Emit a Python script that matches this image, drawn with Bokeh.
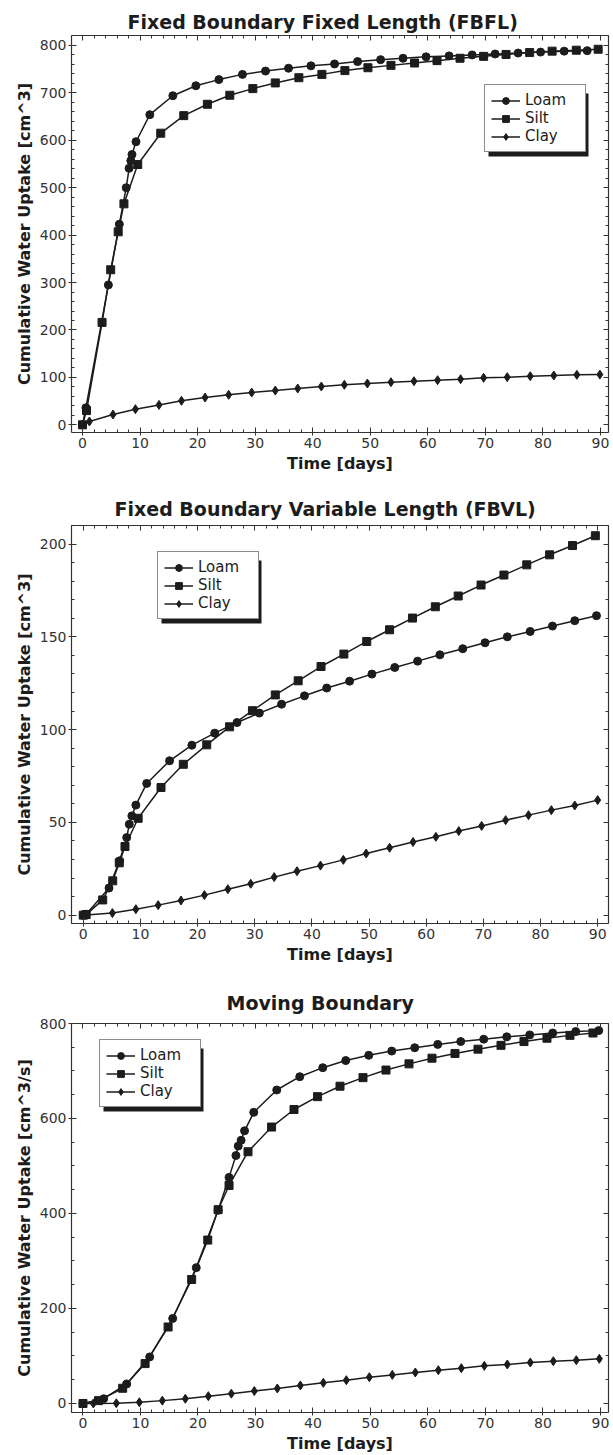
from bokeh.plotting import figure
from bokeh.models import (LinearAxis, SingleIntervalTicker, Range1d, Legend,
                          LegendItem, BoxAnnotation, CustomJSTickFormatter)
from bokeh.layouts import column
from bokeh.embed import file_html
from bokeh.resources import INLINE

# ---------------- data ----------------
# Panel 1: Fixed Boundary Fixed Length (FBFL)
fbfl_loam_t = [0, 0.6, 4.5, 6.4, 7.6, 8.1, 8.4, 8.6, 9.3, 11.7, 15.7, 19.7, 23.7, 27.8,
               31.8, 35.8, 39.7, 43.8, 47.8, 51.8, 55.7, 59.7, 63.7, 67.7, 71.7, 75.7,
               79.6, 83.7, 87.7]
fbfl_loam_v = [0, 36, 295, 423, 500, 541, 557, 570, 597, 654, 694, 715, 728, 739,
               746, 752, 757, 761, 766, 770, 773, 776, 778, 780, 782, 784, 786, 788, 789]
fbfl_silt_t = [0, 0.7, 3.4, 4.9, 6.2, 7.2, 9.6, 13.6, 17.6, 21.7, 25.6, 29.6, 33.5, 37.6,
               41.6, 45.6, 49.6, 53.6, 57.7, 61.6, 65.6, 69.7, 73.6, 77.7, 81.6, 85.8, 89.6]
fbfl_silt_v = [0, 30, 216, 327, 407, 466, 549, 615, 652, 676, 695, 709, 721, 732,
               739, 747, 753, 758, 763, 768, 773, 777, 781, 785, 788, 790, 792]
fbfl_clay_t = [0, 1.2, 5.3, 9.2, 13.3, 17.2, 21.3, 25.4, 29.4, 33.5, 37.4, 41.5, 45.5,
               49.5, 53.6, 57.6, 61.7, 65.7, 69.7, 73.8, 77.8, 81.9, 85.9, 89.9]
fbfl_clay_v = [0, 7, 21.7, 33, 42, 50.6, 57.6, 63.2, 68.1, 72.3, 76.6, 80.8, 84.4,
               87.1, 89.9, 92, 94.1, 96.2, 99.1, 100.5, 102.6, 104, 105.4, 106]

# Panel 2: Fixed Boundary Variable Length (FBVL)
fbvl_loam_t = [0, 0.5, 4.5, 6.35, 7.6, 8.05, 8.5, 9.2, 11.1, 15.1, 19.0, 23.0, 26.9, 30.8,
               34.7, 38.7, 42.6, 46.6, 50.5, 54.5, 58.5, 62.4, 66.4, 70.3, 74.2, 78.2,
               82.1, 86.0, 89.8]
fbvl_loam_v = [0, 0.5, 14.6, 29.3, 41.8, 49, 53.5, 59.3, 71, 83.2, 91.6, 98.1, 103.8, 108.9,
               113.7, 118.2, 122.4, 126.1, 129.9, 133.5, 136.9, 140.3, 143.6, 146.8, 150,
               152.9, 155.8, 158.7, 161.4]
fbvl_silt_t = [0, 0.5, 3.4, 5.15, 6.3, 7.3, 9.6, 13.6, 17.5, 21.6, 25.6, 29.6, 33.6, 37.6,
               41.6, 45.6, 49.6, 53.6, 57.6, 61.6, 65.6, 69.6, 73.6, 77.6, 81.6, 85.6, 89.6]
fbvl_silt_v = [0, 0.3, 8.2, 18.5, 28.2, 37, 52.2, 68.8, 81.3, 91.8, 101.5, 110.2, 118.7, 126.3,
               134, 140.7, 147.5, 153.8, 160.1, 166.2, 172, 177.9, 183.3, 188.8, 194.2,
               199.2, 204.5]
fbvl_clay_t = [0, 5.1, 9.2, 13.1, 17.1, 21.2, 25.3, 29.3, 33.4, 37.4, 41.5, 45.5, 49.5,
               53.6, 57.7, 61.7, 65.7, 69.7, 73.9, 77.9, 81.9, 86.0, 90.0]
fbvl_clay_v = [0, 1.1, 3.2, 5.4, 7.9, 10.8, 14, 16.9, 20.5, 23.7, 26.7, 29.8, 33.2,
               36.3, 39.4, 42.2, 45.3, 48.1, 51.2, 53.9, 56.6, 59.1, 62]

# Panel 3: Moving Boundary
mb_loam_t = [0, 3.6, 7.6, 11.6, 15.6, 19.7, 23.5, 25.4, 26.6, 27.0, 27.5, 28.1, 29.7,
             33.7, 37.7, 41.7, 45.7, 49.7, 53.7, 57.7, 61.7, 65.7, 69.7, 73.7, 77.7,
             81.7, 85.7, 89.7]
mb_loam_v = [0, 10, 41, 98, 179, 286, 407, 476, 522, 542, 554, 574, 613,
             660, 688, 707, 722, 733, 742, 749, 756, 762, 767, 772, 776, 780, 783, 785]
mb_silt_t = [0, 2.7, 6.9, 10.8, 14.8, 18.9, 21.7, 23.5, 25.4, 28.7, 32.8, 36.7, 40.8,
             44.7, 48.7, 52.7, 56.7, 60.7, 64.7, 68.7, 72.7, 76.7, 80.7, 84.7, 88.7]
mb_silt_v = [0, 6, 32, 84, 161, 261, 344, 408, 459, 530, 582, 619, 646,
             668, 686, 702, 715, 727, 737, 746, 754, 762, 769, 775, 780]
mb_clay_t = [0, 1.8, 5.8, 9.8, 13.8, 17.8, 21.8, 25.8, 29.8, 33.8, 37.8, 41.8, 45.8,
             49.8, 53.8, 57.8, 61.8, 65.8, 69.8, 73.8, 77.8, 81.8, 85.8, 89.8]
mb_clay_v = [0, 0, 0.5, 2.5, 6, 10, 15.4, 20.7, 26.2, 31.6, 37.9, 43.4, 49,
             55.4, 60.2, 65.3, 70.1, 74.3, 79.2, 82.1, 86.3, 89, 91.2, 94]

series_labels = ["Loam", "Silt", "Clay"]
x_title = "Time [days]"

# ---------------- styling ----------------
FONT = "DejaVu Sans"
INK = "#1c1c1c"
AXC = "#333333"
MARKERS = ["circle", "square", "diamond"]
MSIZES = [8, 8, 9]


def style_axis(ax, main=True):
    ax.axis_line_color = AXC
    ax.axis_line_width = 1.2
    ax.major_tick_line_color = AXC
    ax.minor_tick_line_color = AXC
    ax.major_tick_in = 5
    ax.minor_tick_in = 3
    ax.minor_tick_out = 0
    if main:
        ax.major_tick_out = 3
        ax.major_label_text_font = FONT
        ax.major_label_text_font_size = "14px"
        ax.major_label_text_color = AXC
        ax.major_label_standoff = 2
        ax.axis_label_text_font = FONT
        ax.axis_label_text_font_size = "16px"
        ax.axis_label_text_font_style = "bold"
        ax.axis_label_text_color = INK
        ax.axis_label_standoff = 3
    else:
        ax.major_tick_out = 0
        ax.formatter = CustomJSTickFormatter(code="return ''")
        ax.major_label_text_color = None
        ax.major_label_text_font_size = "1px"
        ax.major_label_standoff = 0


def make_panel(title, ylabel, series, xr, yr, yint, yminor, h, top, left, bottom, right,
               leg_xy, title_standoff, title_offset):
    p = figure(width=613, height=h, output_backend="svg", toolbar_location=None,
               x_range=Range1d(*xr), y_range=Range1d(*yr),
               min_border_left=left, min_border_right=right, min_border_top=top,
               min_border_bottom=bottom)
    p.title.text = title
    p.title.text_font = FONT
    p.title.text_font_size = "19px"
    p.title.text_font_style = "bold"
    p.title.text_color = INK
    p.title.align = "left"
    p.title.standoff = title_standoff
    p.title.offset = title_offset
    p.grid.visible = False
    p.outline_line_color = None
    p.background_fill_color = "white"
    p.border_fill_color = "white"

    p.xaxis.ticker = SingleIntervalTicker(interval=10, num_minor_ticks=5)
    p.yaxis.ticker = SingleIntervalTicker(interval=yint, num_minor_ticks=yminor)
    p.xaxis.axis_label = x_title
    p.yaxis.axis_label = ylabel
    for ax in p.xaxis + p.yaxis:
        style_axis(ax, True)
    top_ax = LinearAxis(ticker=SingleIntervalTicker(interval=10, num_minor_ticks=5))
    right_ax = LinearAxis(ticker=SingleIntervalTicker(interval=yint, num_minor_ticks=yminor))
    style_axis(top_ax, False)
    style_axis(right_ax, False)
    p.add_layout(top_ax, "above")
    p.add_layout(right_ax, "right")

    items = []
    for (t, v), lab, mk, ms in zip(series, series_labels, MARKERS, MSIZES):
        lr = p.line(t, v, line_color=INK, line_width=1.5)
        sr = p.scatter(t, v, marker=mk, size=ms, fill_color=INK, line_color=INK)
        items.append(LegendItem(label=lab, renderers=[lr, sr]))

    lw, lh = 100, 63
    vx, vy = leg_xy
    shadow = BoxAnnotation(left=vx + 4, right=vx + 4 + lw, bottom=vy - 4, top=vy - 4 + lh,
                           left_units="screen", right_units="screen",
                           bottom_units="screen", top_units="screen",
                           fill_color="#1c1c1c", fill_alpha=1.0, line_color=None)
    p.add_layout(shadow)
    leg = Legend(items=items, location=(vx, vy), padding=6, spacing=0, margin=0,
                 label_height=17, glyph_height=17, glyph_width=29, label_standoff=5,
                 label_width=54, label_text_font=FONT, label_text_font_size="15px",
                 label_text_color=INK, border_line_color=INK, border_line_width=1.2,
                 background_fill_color="white", background_fill_alpha=1.0)
    p.add_layout(leg, "center")
    return p


p1 = make_panel("Fixed Boundary Fixed Length (FBFL)", "Cumulative Water Uptake [cm^3]",
                [(fbfl_loam_t, fbfl_loam_v), (fbfl_silt_t, fbfl_silt_v),
                 (fbfl_clay_t, fbfl_clay_v)],
                (-1.91, 91.4), (-16.2, 821), 100, 5,
                480, 35, 71, 48, 4, (413, 280), 5, 56)
p2 = make_panel("Fixed Boundary Variable Length (FBVL)", "Cumulative Water Uptake [cm^3]",
                [(fbvl_loam_t, fbvl_loam_v), (fbvl_silt_t, fbvl_silt_v),
                 (fbvl_clay_t, fbvl_clay_v)],
                (-2.06, 91.9), (-4.5, 210), 50, 5,
                495, 45, 63, 52, 2, (86, 304), 12, 43)
p3 = make_panel("Moving Boundary", "Cumulative Water Uptake [cm^3/s]",
                [(mb_loam_t, mb_loam_v), (mb_silt_t, mb_silt_v),
                 (mb_clay_t, mb_clay_v)],
                (-2.0, 91.4), (-19, 800), 200, 4,
                480, 48, 63, 43, 5, (28, 305), 20, 155)

layout = column(p1, p2, p3, spacing=0)
open("out.html", "w").write(file_html(layout, INLINE))
